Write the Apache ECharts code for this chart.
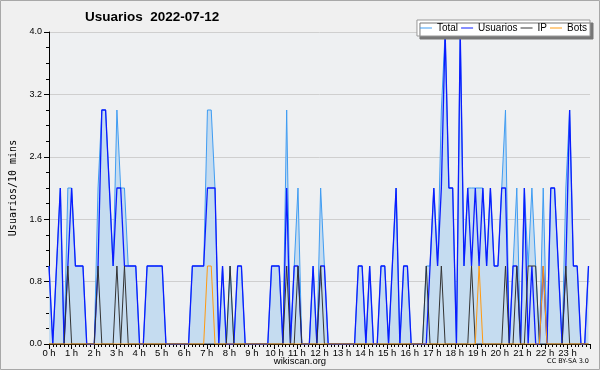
<!DOCTYPE html>
<html><head><meta charset="utf-8">
<script src="https://cdn.jsdelivr.net/npm/echarts@6/dist/echarts.min.js"></script>
<style>
html,body{margin:0;padding:0;background:#f0f0f0;}
#c{width:600px;height:370px;}
</style></head><body><div id="c"></div>
<script>
const titleText = 'Usuarios  2022-07-12';
const yAxisName = 'Usuarios/10 mins';
const seriesNames = ['Total', 'Usuarios', 'IP', 'Bots'];
const hourLabels = ['0 h','1 h','2 h','3 h','4 h','5 h','6 h','7 h','8 h','9 h','10 h','11 h',
  '12 h','13 h','14 h','15 h','16 h','17 h','18 h','19 h','20 h','21 h','22 h','23 h'];
const yTickLabels = ['0.0','0.8','1.6','2.4','3.2','4.0'];

// one value per 10 minutes (144 slots)
const total = [
  1,0,1,2,0,2,2,1,1,1, 0,0,0,2,3,3,2,1,3,2, 2,1,1,1,0,0,1,1,1,1, 1,0,0,0,0,0,0,0,1,1,
  1,1,3,3,2,0,1,0,1,0, 1,1,0,0,0,0,0,0,0,1, 1,1,0,3,0,1,2,0,0,0, 1,0,2,1,0,0,0,0,0,0,
  0,0,1,1,0,1,0,0,1,1, 0,1,2,0,1,1,0,0,0,0, 1,1,2,1,3,4,2,2,0,4, 1,2,2,2,2,2,1,2,1,1,
  2,3,0,1,2,0,2,1,2,1, 0,2,0,2,2,1,0,2,3,1, 1,0,0,1
];
const usuarios = [
  1,0,1,2,0,1,2,1,1,1, 0,0,0,1,3,3,2,1,2,2, 1,1,1,1,0,0,1,1,1,1, 1,0,0,0,0,0,0,0,1,1,
  1,1,2,2,2,0,1,0,0,0, 1,1,0,0,0,0,0,0,0,1, 1,1,0,2,0,1,1,0,0,0, 1,0,1,1,0,0,0,0,0,0,
  0,0,1,1,0,1,0,0,1,1, 0,1,2,0,1,1,0,0,0,0, 0,1,2,1,2,4,2,2,0,4, 1,2,1,2,1,2,1,2,1,1,
  2,2,0,1,1,0,2,0,1,0, 0,1,0,2,2,1,0,1,3,1, 1,0,0,1
];
const ip = [
  0,0,0,0,0,1,0,0,0,0, 0,0,0,1,0,0,0,0,1,0, 1,0,0,0,0,0,0,0,0,0, 0,0,0,0,0,0,0,0,0,0,
  0,0,0,0,0,0,0,0,1,0, 0,0,0,0,0,0,0,0,0,0, 0,0,0,1,0,0,1,0,0,0, 0,0,1,0,0,0,0,0,0,0,
  0,0,0,0,0,0,0,0,0,0, 0,0,0,0,0,0,0,0,0,0, 1,0,0,0,1,0,0,0,0,0, 0,0,1,0,0,0,0,0,0,0,
  0,1,0,0,1,0,0,1,1,1, 0,0,0,0,0,0,0,1,0,0, 0,0,0,0
];
const bots = [
  0,0,0,0,0,0,0,0,0,0, 0,0,0,0,0,0,0,0,0,0, 0,0,0,0,0,0,0,0,0,0, 0,0,0,0,0,0,0,0,0,0,
  0,0,1,1,0,0,0,0,0,0, 0,0,0,0,0,0,0,0,0,0, 0,0,0,0,0,0,0,0,0,0, 0,0,0,0,0,0,0,0,0,0,
  0,0,0,0,0,0,0,0,0,0, 0,0,0,0,0,0,0,0,0,0, 0,0,0,0,0,0,0,0,0,0, 0,0,0,0,1,0,0,0,0,0,
  0,0,0,0,0,0,0,0,0,0, 0,1,0,0,0,0,0,0,0,0, 0,0,0,0
];

const HOUR = 5.975;           // axis units per hour label
const XMAX = HOUR * 24;
const pts = arr => arr.map((v, i) => [i, v]);
const sans = "'DejaVu Sans', sans-serif";
const narrow = "'Liberation Sans', Arial, sans-serif";

const chart = echarts.init(document.getElementById('c'), null, {renderer: 'canvas'});
chart.setOption({
  animation: false,
  backgroundColor: '#f0f0f0',
  title: {
    text: titleText, left: 85, top: 10, padding: 0,
    textStyle: {fontFamily: narrow, fontSize: 13.5, fontWeight: 'bold', color: '#000'}
  },
  legend: {
    data: seriesNames, right: 10, top: 20, padding: [3, 3], itemGap: 3,
    itemWidth: 12, itemHeight: 1, icon: 'rect', orient: 'horizontal',
    backgroundColor: '#ffffff', borderColor: '#999', borderWidth: 1,
    shadowColor: '#777', shadowOffsetX: 3, shadowOffsetY: 3, shadowBlur: 0,
    textStyle: {fontFamily: narrow, fontSize: 10, color: '#000'}
  },
  grid: {left: 46, right: 10, top: 32, bottom: 26, show: true, backgroundColor: '#eef0f2', borderWidth: 0},
  xAxis: {
    type: 'value', min: 0, max: XMAX, interval: HOUR,
    axisLine: {lineStyle: {color: '#000', width: 1}},
    axisTick: {show: true, length: 5, lineStyle: {color: '#000'}},
    minorTick: {show: true, splitNumber: 6, length: 3, lineStyle: {color: '#000'}},
    splitLine: {show: false},
    axisLabel: {
      fontFamily: narrow, fontSize: 9.5, color: '#000', margin: 4, showMaxLabel: false,
      formatter: v => hourLabels[Math.round(v / HOUR)] || ''
    }
  },
  yAxis: {
    type: 'value', min: 0, max: 4, interval: 0.8,
    name: yAxisName, nameLocation: 'middle', nameGap: 31, nameRotate: 90,
    nameTextStyle: {fontFamily: "'DejaVu Sans Mono', monospace", fontSize: 10, color: '#000'},
    axisLine: {show: true, lineStyle: {color: '#000', width: 1}},
    axisTick: {show: true, length: 5, lineStyle: {color: '#000'}},
    minorTick: {show: true, splitNumber: 4, length: 3, lineStyle: {color: '#000'}},
    splitLine: {show: true, lineStyle: {color: '#cfcfcf', width: 1}},
    axisLabel: {
      fontFamily: narrow, fontSize: 9, color: '#000', margin: 7,
      formatter: v => yTickLabels[Math.round(v / 0.8)]
    }
  },
  series: [
    {name: seriesNames[0], type: 'line', data: pts(total), showSymbol: false,
     lineStyle: {color: '#3f9cf2', width: 1}, itemStyle: {color: '#3f9cf2'},
     areaStyle: {color: '#c5dcf0', opacity: 1}},
    {name: seriesNames[1], type: 'line', data: pts(usuarios), showSymbol: false,
     lineStyle: {color: '#0a1cff', width: 1.3}, itemStyle: {color: '#0a1cff'}},
    {name: seriesNames[2], type: 'line', data: pts(ip), showSymbol: false,
     lineStyle: {color: '#333333', width: 1}, itemStyle: {color: '#333333'}},
    {name: seriesNames[3], type: 'line', data: pts(bots), showSymbol: false,
     lineStyle: {color: '#ff9a10', width: 1}, itemStyle: {color: '#ff9a10'}}
  ],
  graphic: [
    {type: 'rect', shape: {x: 0.5, y: 0.5, width: 599, height: 369},
     style: {fill: null, stroke: '#a8a8a8', lineWidth: 1}, silent: true},
    {type: 'text', left: 'center', top: 356,
     style: {text: 'wikiscan.org', font: "9.5px 'Liberation Sans'", fill: '#000'}},
    {type: 'text', right: 11, top: 358,
     style: {text: 'CC BY-SA 3.0', font: "6.5px 'DejaVu Sans'", fill: '#000'}}
  ]
});
</script></body></html>
